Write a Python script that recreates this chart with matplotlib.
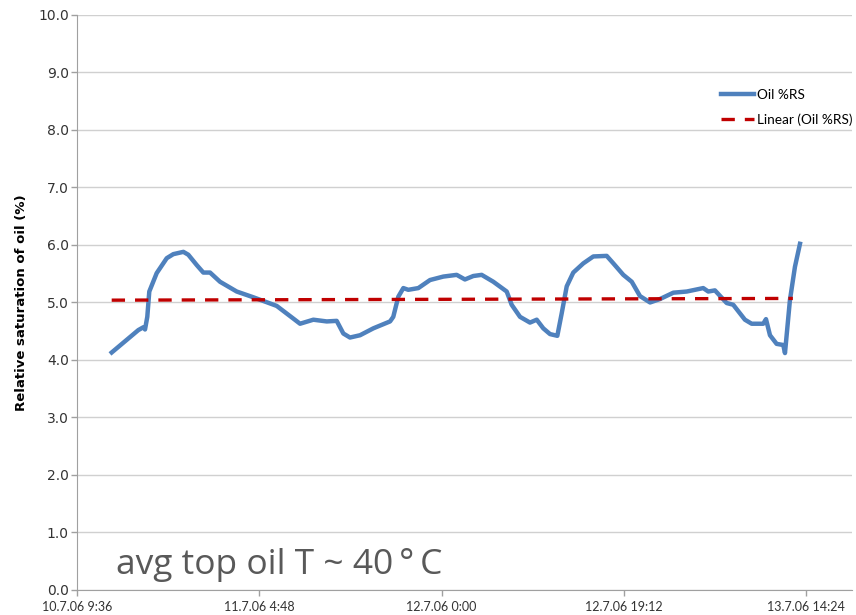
import numpy as np
import pandas as pd
import matplotlib
matplotlib.use("Agg")
import matplotlib.pyplot as plt

# Oil relative saturation log, hours counted from 10.7.06 9:36
start = pd.Timestamp("2006-07-10 09:36")
hours = [3.65, 6.46, 7.00, 7.16, 7.40, 7.61, 8.39, 9.45, 10.14, 11.20, 11.72,
         12.61, 13.30, 14.01, 15.06, 16.82, 18.57, 21.03, 22.78, 23.49, 24.89,
         26.30, 27.35, 28.05, 28.75, 29.81, 31.21, 32.97, 33.31, 33.84, 34.37,
         34.89, 35.95, 37.18, 38.58, 39.99, 40.86, 41.74, 42.62, 43.85, 45.26,
         45.78, 46.66, 47.71, 48.42, 49.11, 49.82, 50.59, 51.05, 51.58, 52.27,
         53.33, 54.38, 55.79, 56.49, 57.54, 58.43, 59.30, 60.36, 61.41, 62.81,
         64.22, 65.96, 66.49, 67.19, 68.43, 69.12, 70.35, 71.06, 72.28, 72.57,
         72.99, 73.69, 74.39, 74.57, 75.09, 75.62, 76.15]
oil_rs = [4.13, 4.52, 4.57, 4.53, 4.75, 5.19, 5.51, 5.77, 5.84, 5.88, 5.83,
          5.65, 5.52, 5.52, 5.36, 5.19, 5.09, 4.94, 4.72, 4.63, 4.70,
          4.67, 4.68, 4.46, 4.39, 4.43, 4.55, 4.67, 4.75, 5.10, 5.25,
          5.22, 5.25, 5.39, 5.45, 5.48, 5.40, 5.46, 5.48, 5.36, 5.19,
          4.96, 4.75, 4.65, 4.70, 4.55, 4.45, 4.42, 4.81, 5.28, 5.52,
          5.68, 5.80, 5.81, 5.68, 5.48, 5.36, 5.11, 5.00, 5.06, 5.17,
          5.19, 5.25, 5.19, 5.21, 4.99, 4.96, 4.70, 4.63, 4.63, 4.71,
          4.43, 4.28, 4.26, 4.12, 5.04, 5.62, 6.02]

# linear trend endpoints
trend_hours = [3.65, 75.4]
trend_vals = [5.04, 5.07]

tick_hours = [0, 19.2, 38.4, 57.6, 76.8]
tick_labels = ["10.7.06 9:36", "11.7.06 4:48", "12.7.06 0:00",
               "12.7.06 19:12", "13.7.06 14:24"]

t = start + pd.to_timedelta(hours, unit="h")
tt = start + pd.to_timedelta(trend_hours, unit="h")
ticks = start + pd.to_timedelta(tick_hours, unit="h")

fig = plt.figure(figsize=(8.56, 6.15), dpi=100)
ax = fig.add_axes([0.09, 0.0407, 0.905, 0.935])

ax.plot(t, oil_rs, color="#4F81BD", lw=3.2, solid_joinstyle="round",
        label="Oil %RS", zorder=3)
ax.plot(tt, trend_vals, color="#C00000", lw=2.4, dashes=(4, 3),
        label="Linear (Oil %RS)", zorder=4)

ax.set_ylim(0, 10)
ax.set_yticks(np.arange(0, 10.01, 1.0))
ax.set_yticklabels([f"{v:.1f}" for v in np.arange(0, 10.01, 1.0)])
ax.set_xlim(start, start + pd.Timedelta(hours=81.6))
ax.set_xticks(ticks)
ax.set_xticklabels(tick_labels)

ax.grid(axis="y", color="#D0D0D0", lw=1)
ax.set_axisbelow(True)
for s in ["top", "right"]:
    ax.spines[s].set_visible(False)
ax.spines["left"].set_color("#A0A0A0")
ax.spines["bottom"].set_color("#A0A0A0")
ax.tick_params(axis="both", color="#A0A0A0", length=4, width=1)
ax.tick_params(axis="y", labelsize=10, labelcolor="#333333", pad=2)
ax.tick_params(axis="x", labelsize=9, labelcolor="#333333", pad=4)
for lab in ax.get_yticklabels():
    lab.set_family("DejaVu Sans")
for lab in ax.get_xticklabels():
    lab.set_family("Lato")

ax.set_ylabel("Relative saturation of oil (%)", fontsize=9.5,
              fontweight="bold", family="DejaVu Sans", labelpad=7)

leg = ax.legend(loc="upper right", bbox_to_anchor=(1.017, 0.893), frameon=False,
                prop={"family": "Lato", "size": 9.8}, handlelength=2.4,
                handletextpad=0.25, labelspacing=0.95)

ax.text(0.05, 0.027, "avg top oil T ~ 40\u2009\u00b0\u2009C", transform=ax.transAxes,
        fontsize=25.5, color="#595959", family=["Open Sans", "DejaVu Sans"],
        va="baseline")

fig.savefig("out.png", dpi=100)
